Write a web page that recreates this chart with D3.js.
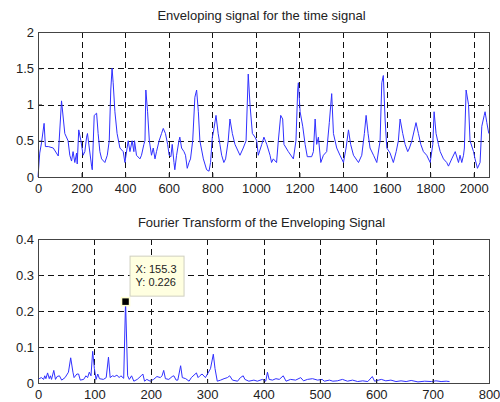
<!DOCTYPE html>
<html>
<head>
<meta charset="utf-8">
<script src="https://cdn.jsdelivr.net/npm/d3@7"></script>
<style>
  body { margin: 0; background: #fff; }
  svg { font-family: "Liberation Sans", Arial, sans-serif; }
</style>
</head>
<body>
<svg id="chart"></svg>
<script>
// envelope of the time signal (sample index, amplitude)
const envX = [0, 8, 16, 28, 34, 47, 70, 93, 108, 123, 138, 146, 154, 161, 169, 177, 180, 187, 197, 207, 215, 223, 227, 246, 249, 258, 269, 276, 284, 292, 307, 318, 327, 334, 340, 345, 353, 363, 376, 391, 399, 414, 422, 432, 440, 443, 452, 468, 475, 486, 491, 495, 503, 511, 521, 529, 537, 544, 556, 567, 575, 585, 595, 602, 610, 616, 624, 628, 636, 647, 651, 659, 670, 677, 685, 693, 700, 710, 720, 728, 736, 743, 759, 774, 785, 792, 800, 804, 817, 827, 835, 843, 853, 861, 873, 881, 892, 904, 927, 942, 955, 965, 973, 984, 996, 1004, 1011, 1027, 1037, 1050, 1065, 1072, 1080, 1095, 1103, 1114, 1123, 1129, 1149, 1172, 1184, 1192, 1195, 1203, 1215, 1226, 1236, 1256, 1264, 1272, 1279, 1287, 1298, 1310, 1325, 1337, 1348, 1356, 1371, 1386, 1402, 1414, 1425, 1435, 1448, 1471, 1486, 1498, 1506, 1515, 1524, 1540, 1555, 1570, 1578, 1585, 1593, 1601, 1616, 1631, 1644, 1654, 1662, 1674, 1685, 1697, 1705, 1716, 1735, 1746, 1757, 1769, 1784, 1800, 1812, 1818, 1827, 1838, 1846, 1861, 1876, 1884, 1899, 1915, 1930, 1937, 1945, 1953, 1957, 1965, 1976, 1983, 1999, 2006, 2017, 2029, 2037, 2048, 2052, 2060, 2069];
const envY = [0, 0.33, 0.47, 0.74, 0.42, 0.42, 0.4, 0.29, 1.05, 0.6, 0.5, 0.3, 0.22, 0.35, 0.2, 0.33, 0.18, 0.65, 0.5, 0.3, 0.35, 0.55, 0.6, 0.15, 0.1, 0.85, 0.88, 0.6, 0.35, 0.25, 0.2, 0.3, 0.5, 1.2, 1.5, 1.3, 0.9, 0.6, 0.4, 0.35, 0.2, 0.5, 0.35, 0.5, 0.35, 0.5, 0.3, 0.25, 0.3, 0.45, 0.5, 1.2, 0.9, 0.5, 0.3, 0.4, 0.25, 0.35, 0.5, 0.6, 0.67, 0.6, 0.45, 0.3, 0.28, 0.45, 0.2, 0.1, 0.3, 0.5, 0.55, 0.4, 0.35, 0.3, 0.12, 0.2, 0.25, 0.5, 1.1, 1.2, 0.9, 0.5, 0.25, 0.1, 0.08, 0.2, 0.55, 0.6, 0.85, 0.6, 0.45, 0.3, 0.2, 0.25, 0.5, 0.8, 0.6, 0.45, 0.3, 0.4, 0.5, 1.42, 1.0, 0.6, 0.55, 0.5, 0.3, 0.45, 0.55, 0.45, 0.3, 0.2, 0.25, 0.2, 0.5, 0.85, 0.8, 0.45, 0.35, 0.25, 0.5, 1.2, 1.3, 0.9, 0.7, 0.45, 0.28, 0.28, 0.35, 0.8, 0.45, 0.55, 0.2, 0.3, 0.35, 0.75, 1.15, 0.6, 0.4, 0.3, 0.2, 0.4, 0.65, 0.45, 0.3, 0.2, 0.3, 0.6, 0.85, 0.6, 0.4, 0.3, 0.2, 0.5, 1.3, 1.4, 0.8, 0.4, 0.33, 0.2, 0.35, 0.5, 0.8, 0.6, 0.45, 0.35, 0.4, 0.5, 0.75, 0.6, 0.45, 0.35, 0.3, 0.2, 0.45, 0.9, 0.6, 0.45, 0.35, 0.25, 0.2, 0.15, 0.25, 0.35, 0.2, 0.3, 0.2, 0.3, 0.4, 1.2, 1.0, 0.5, 0.35, 0.25, 0.12, 0.2, 0.7, 0.85, 0.9, 0.75, 0.6];

// spectrum of the envelope (frequency, magnitude)
const fftX = [2, 6, 10, 12, 14, 17, 20, 22, 24, 28, 31, 34, 38, 42, 48, 54, 58, 62, 64, 69, 72, 75, 81, 85, 88, 91, 94, 97, 100, 103, 106, 109, 116, 121, 125, 128, 132, 136, 140, 144, 147, 152, 155.3, 159, 162, 166, 170, 176, 183, 186, 189, 193, 199, 205, 211, 217, 220, 223, 226, 232, 238, 241, 245, 248, 253, 256, 262, 268, 272, 281, 284, 287, 291, 297, 306, 311, 314, 318, 324, 330, 336, 340, 345, 354, 359, 364, 367, 374, 383, 389, 398, 404, 407, 410, 416, 422, 428, 435, 440, 448, 457, 466, 471, 478, 487, 496, 504, 508, 517, 523, 531, 540, 549, 558, 567, 576, 585, 593, 597, 609, 617, 626, 635, 644, 653, 662, 674, 686, 698, 706, 715, 724, 730];
const fftY = [0.012, 0.015, 0.01, 0.02, 0.012, 0.028, 0.012, 0.02, 0.01, 0.035, 0.01, 0.018, 0.02, 0.008, 0.015, 0.03, 0.07, 0.03, 0.015, 0.025, 0.025, 0.008, 0.01, 0.02, 0.015, 0.03, 0.02, 0.088, 0.04, 0.01, 0.025, 0.012, 0.01, 0.015, 0.072, 0.015, 0.02, 0.018, 0.022, 0.015, 0.02, 0.013, 0.226, 0.02, 0.01, 0.02, 0.005, 0.01, 0.02, 0.025, 0.005, 0.01, 0.005, 0.01, 0.018, 0.015, 0.02, 0.035, 0.012, 0.01, 0.018, 0.02, 0.008, 0.008, 0.048, 0.015, 0.012, 0.005, 0.015, 0.028, 0.015, 0.02, 0.025, 0.015, 0.04, 0.08, 0.04, 0.005, 0.008, 0.012, 0.015, 0.02, 0.008, 0.005, 0.015, 0.02, 0.01, 0.005, 0.008, 0.005, 0.01, 0.005, 0.03, 0.01, 0.008, 0.012, 0.01, 0.02, 0.005, 0.01, 0.008, 0.015, 0.006, 0.01, 0.012, 0.008, 0.01, 0.005, 0.008, 0.005, 0.006, 0.01, 0.005, 0.008, 0.004, 0.006, 0.004, 0.018, 0.005, 0.01, 0.006, 0.008, 0.004, 0.006, 0.004, 0.007, 0.003, 0.005, 0.004, 0.006, 0.004, 0.005, 0.004];

const envXTicks = [0, 200, 400, 600, 800, 1000, 1200, 1400, 1600, 1800, 2000];
const envYTicks = [0, 0.5, 1, 1.5, 2];
const fftXTicks = [0, 100, 200, 300, 400, 500, 600, 700, 800];
const fftYTicks = [0, 0.1, 0.2, 0.3, 0.4];

const tipX = 155.3, tipY = 0.226;

const width = 500, height = 402;
const svg = d3.select('#chart').attr('width', width).attr('height', height);

function panel(box, xDomain, yDomain, xTicks, yTicks, xs, ys, title) {
  const x = d3.scaleLinear().domain(xDomain).range([box.left, box.right]);
  const y = d3.scaleLinear().domain(yDomain).range([box.bottom, box.top]);
  const g = svg.append('g');
  const w = box.right - box.left, h = box.bottom - box.top;

  g.append('rect')
    .attr('x', box.left).attr('y', box.top)
    .attr('width', w).attr('height', h)
    .attr('fill', '#fff');

  // dashed grid
  g.append('g').selectAll('line')
    .data(xTicks.filter(t => t > xDomain[0] && t < xDomain[1]))
    .join('line')
    .attr('x1', d => Math.round(x(d)) + 0.5).attr('x2', d => Math.round(x(d)) + 0.5)
    .attr('y1', box.top).attr('y2', box.bottom)
    .attr('stroke', '#111').attr('stroke-dasharray', '6,4');
  g.append('g').selectAll('line')
    .data(yTicks.filter(t => t > yDomain[0] && t < yDomain[1]))
    .join('line')
    .attr('y1', d => Math.round(y(d)) + 0.5).attr('y2', d => Math.round(y(d)) + 0.5)
    .attr('x1', box.left).attr('x2', box.right)
    .attr('stroke', '#111').attr('stroke-dasharray', '6,4');

  const line = d3.line().x((d, i) => x(xs[i])).y((d, i) => y(ys[i]));
  g.append('path')
    .datum(xs)
    .attr('d', line)
    .attr('fill', 'none')
    .attr('stroke', '#3030ff')
    .attr('stroke-width', 1)
    .attr('stroke-linejoin', 'round');

  // axes with inward ticks
  const xAxis = g.append('g')
    .attr('transform', `translate(0,${box.bottom})`)
    .call(d3.axisBottom(x).tickValues(xTicks).tickSize(-4).tickPadding(7).tickFormat(d3.format('')));
  const yAxis = g.append('g')
    .attr('transform', `translate(${box.left},0)`)
    .call(d3.axisLeft(y).tickValues(yTicks).tickSize(-4).tickPadding(4).tickFormat(d3.format('')));
  [xAxis, yAxis].forEach(a => {
    a.select('.domain').remove();
    a.selectAll('line').attr('stroke', '#222');
    a.selectAll('text').attr('font-size', 13).attr('fill', '#222')
      .attr('font-family', '"Liberation Sans", Arial, sans-serif');
  });

  g.append('rect')
    .attr('x', box.left + 0.5).attr('y', box.top + 0.5)
    .attr('width', w).attr('height', h)
    .attr('fill', 'none').attr('stroke', '#444');

  g.append('text')
    .attr('x', (box.left + box.right) / 2 - 2)
    .attr('y', box.top - 12)
    .attr('text-anchor', 'middle')
    .attr('font-size', 13)
    .attr('fill', '#222')
    .text(title);

  return { x, y, g };
}

panel({ left: 38, right: 489, top: 32, bottom: 177 }, [0, 2070], [0, 2],
  envXTicks, envYTicks, envX, envY, 'Enveloping signal for the time signal');

const p2 = panel({ left: 38, right: 489, top: 239, bottom: 383 }, [0, 800], [0, 0.4],
  fftXTicks, fftYTicks, fftX, fftY, 'Fourier Transform of the Enveloping Signal');

// data tip
const mx = p2.x(tipX), my = p2.y(tipY);
const tip = svg.append('g');
tip.append('rect')
  .attr('x', mx + 4.5).attr('y', my - 45.5)
  .attr('width', 54).attr('height', 40)
  .attr('fill', '#ffffe0').attr('stroke', '#cfcfc0');
tip.append('text')
  .attr('x', mx + 10).attr('y', my - 29)
  .attr('font-size', 11).attr('fill', '#222')
  .text(`X: ${tipX}`);
tip.append('text')
  .attr('x', mx + 10).attr('y', my - 15.5)
  .attr('font-size', 11).attr('fill', '#222')
  .text(`Y: ${tipY}`);
tip.append('rect')
  .attr('x', mx - 4).attr('y', my - 4)
  .attr('width', 8).attr('height', 8)
  .attr('fill', '#000').attr('stroke', '#ffffd0').attr('stroke-width', 1.5);
</script>
</body>
</html>
